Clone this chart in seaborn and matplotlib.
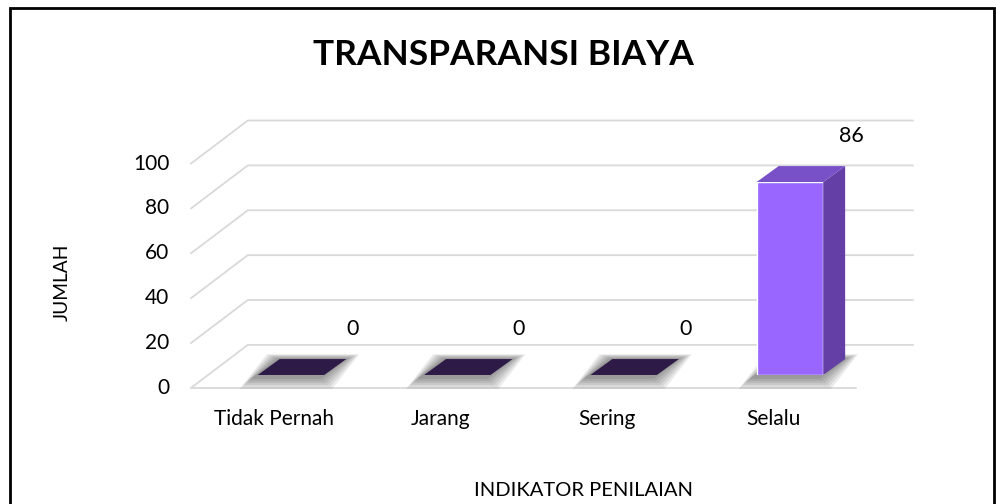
import matplotlib
matplotlib.use("Agg")
import matplotlib.pyplot as plt
import seaborn as sns
import pandas as pd
from matplotlib.patches import Polygon, Rectangle

# data
categories = ["Tidak Pernah", "Jarang", "Sering", "Selalu"]
values = [0, 0, 0, 86]
y_ticks = [0, 20, 40, 60, 80, 100]

sns.set_theme(style="white")
plt.rcParams["font.family"] = ["Lato", "DejaVu Sans"]

df = pd.DataFrame({"indikator": categories, "jumlah": values})

fig = plt.figure(figsize=(9.96, 5.04), dpi=100)
ax = fig.add_axes([0.2087, 0.256, 0.6679, 0.4452])

bar_w = 0.4
front_col = "#9966ff"
side_col = "#633fa6"
top_col = "#7850c8"
flat_col = "#2e1a47"
grid_col = "#d9d9d9"

# fake 3d depth, in data units
ddx, ddy = 0.132, 7.1       # bar depth
fx, fy = -0.102, -5.8       # floor front edge relative to bar plane
bx, by = 0.24, 13.4         # floor back edge relative to bar plane

# walls / gridlines
for v in y_ticks:
    ax.plot([-0.5 + fx, -0.5 + bx, 3.5 + bx], [v + fy, v + by, v + by],
            color=grid_col, lw=1.3, clip_on=False, zorder=1)
    ax.text(-0.5 + fx - 0.13, v + fy, str(v), ha="right", va="center",
            fontsize=15, color="#000000")
ax.plot([-0.5 + fx, 3.5 + fx], [fy, fy], color=grid_col, lw=1.3,
        clip_on=False, zorder=1)

# soft shadows on the floor
for i, v in enumerate(values):
    for k in range(6):
        e = 0.013 * (6 - k)
        ey = 0.9 * (6 - k)
        pts = [(i - bar_w / 2 - e - 0.03, -ey - 0.8),
               (i + bar_w / 2 + e - 0.03, -ey - 0.8),
               (i + bar_w / 2 + ddx + e, ddy + ey * 0.4),
               (i - bar_w / 2 + ddx - e, ddy + ey * 0.4)]
        ax.add_patch(Polygon(pts, closed=True, facecolor="#000000",
                             edgecolor="none", alpha=0.08, zorder=2,
                             clip_on=False))

sns.barplot(data=df, x="indikator", y="jumlah", color=front_col,
            width=bar_w, saturation=1, ax=ax, zorder=5)

for i, v in enumerate(values):
    xl, xr = i - bar_w / 2, i + bar_w / 2
    if v > 0:
        side = [(xr, 0), (xr + ddx, ddy), (xr + ddx, v + ddy), (xr, v)]
        ax.add_patch(Polygon(side, closed=True, facecolor=side_col,
                             edgecolor="none", zorder=6, clip_on=False))
    top = [(xl, v), (xr, v), (xr + ddx, v + ddy), (xl + ddx, v + ddy)]
    ax.add_patch(Polygon(top, closed=True,
                         facecolor=top_col if v > 0 else flat_col,
                         edgecolor="none", zorder=6, clip_on=False))
    ax.text(i + 0.37, v + 20.5, str(v), ha="center", va="center",
            fontsize=15.5, color="#000000")
    ax.text(i + fx, -19.6, categories[i], ha="center", va="center",
            fontsize=15, color="#000000")

ax.set_xlim(-0.5, 3.5)
ax.set_ylim(0, 100)
ax.axis("off")

fig.text(503 / 996, 1 - 55 / 504, "TRANSPARANSI BIAYA", ha="center",
         va="center", fontsize=25.5, fontweight="bold", color="#000000")
fig.text(62 / 996, 1 - 282 / 504, "JUMLAH", rotation=90, ha="center",
         va="center", fontsize=13.8, color="#000000")
fig.text(583 / 996, 1 - 491 / 504, "INDIKATOR PENILAIAN", ha="center",
         va="center", fontsize=14.5, color="#000000")

fig.patches.append(Rectangle((10 / 996, -0.05), 984 / 996, 1.05 - 8 / 504,
                             transform=fig.transFigure, fill=False,
                             edgecolor="#000000", lw=2.0))

fig.savefig("out.png", dpi=100)
